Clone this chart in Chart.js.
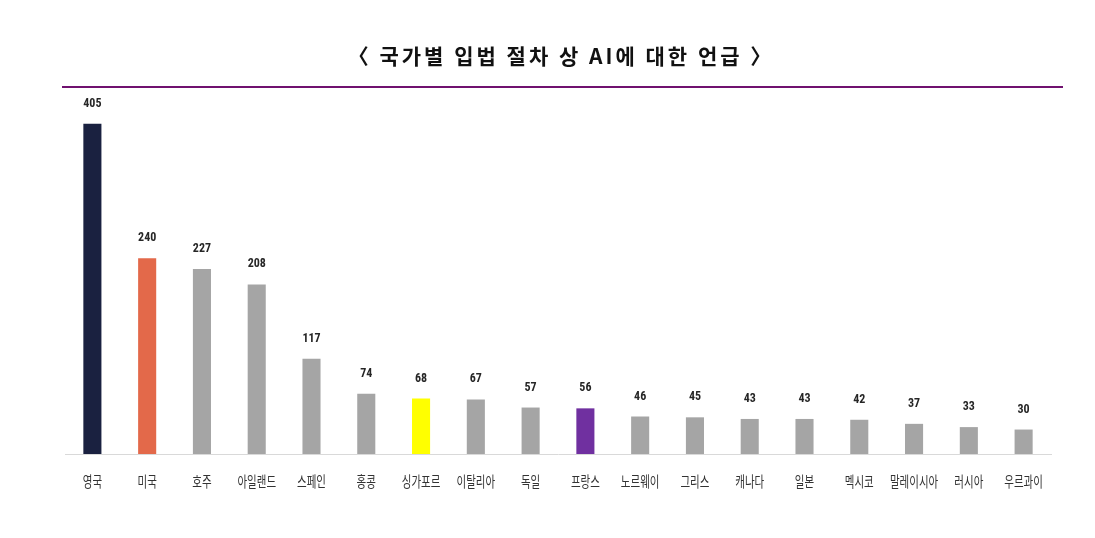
<!DOCTYPE html>
<html><head><meta charset="utf-8">
<script src="https://cdn.jsdelivr.net/npm/chart.js@4.4.1/dist/chart.umd.min.js"></script>
<style>html,body{margin:0;padding:0;background:#fff}#wrap{width:1095px;height:538px}</style>
</head><body><div id="wrap"><canvas id="c"></canvas></div>
<script>
const categories = ['영국','미국','호주','아일랜드','스페인','홍콩','싱가포르','이탈리아','독일','프랑스','노르웨이','그리스','캐나다','일본','멕시코','말레이시아','러시아','우르과이'];
const mentions = [405,240,227,208,117,74,68,67,57,56,46,45,43,43,42,37,33,30];
const barColors = ['#1A2140','#E3694A','#A5A5A5','#A5A5A5','#A5A5A5','#A5A5A5','#FFFF00','#A5A5A5','#A5A5A5','#7030A0','#A5A5A5','#A5A5A5','#A5A5A5','#A5A5A5','#A5A5A5','#A5A5A5','#A5A5A5','#A5A5A5'];
const titleText = '〈 국가별 입법 절차 상 AI에 대한 언급 〉';

const valueLabels = {
  id: 'valueLabels',
  afterDatasetsDraw(chart) {
    const ctx = chart.ctx;
    const meta = chart.getDatasetMeta(0);
    ctx.save();
    ctx.font = 'bold 12px "Liberation Sans Narrow", "Roboto Condensed", "Liberation Sans", sans-serif';
    ctx.fillStyle = '#262626';
    ctx.textAlign = 'center';
    ctx.textBaseline = 'middle';
    meta.data.forEach((bar, i) => {
      ctx.fillText(String(mentions[i]), bar.x, bar.y - 20);
    });
    ctx.restore();
  }
};
const categoryLabels = {
  id: 'categoryLabels',
  afterDraw(chart) {
    const ctx = chart.ctx;
    const xs = chart.scales.x;
    ctx.save();
    ctx.font = '15px "Noto Sans CJK KR", sans-serif';
    ctx.fillStyle = '#333';
    ctx.textAlign = 'center';
    ctx.textBaseline = 'middle';
    categories.forEach((c, i) => {
      const x = xs.getPixelForValue(i);
      ctx.save();
      ctx.translate(x, chart.chartArea.bottom + 27);
      ctx.scale(0.7, 1);
      ctx.fillText(c, 0, 0);
      ctx.restore();
    });
    ctx.restore();
  }
};
const titleDraw = {
  id: 'titleDraw',
  afterDraw(chart) {
    const ctx = chart.ctx;
    const top = chart.chartArea.top;
    const cx = (chart.chartArea.left + chart.chartArea.right) / 2 + 3;
    ctx.save();
    ctx.font = 'bold 21px "Noto Sans CJK KR", sans-serif';
    ctx.letterSpacing = '3px';
    ctx.fillStyle = '#111';
    ctx.textAlign = 'center';
    ctx.textBaseline = 'middle';
    ctx.fillText(titleText, cx, top - 32);
    ctx.letterSpacing = '0px';
    ctx.strokeStyle = '#70116F';
    ctx.lineWidth = 2;
    ctx.beginPath();
    ctx.moveTo(62, top - 1);
    ctx.lineTo(1063, top - 1);
    ctx.stroke();
    ctx.restore();
  }
};

new Chart(document.getElementById('c'), {
  type: 'bar',
  data: {
    labels: categories,
    datasets: [{
      data: mentions,
      backgroundColor: barColors,
      barPercentage: 0.66,
      categoryPercentage: 0.5
    }]
  },
  options: {
    responsive: true,
    maintainAspectRatio: false,
    animation: false,
    layout: { padding: { left: 65, right: 44, top: 88, bottom: 76 } },
    plugins: {
      legend: { display: false },
      tooltip: { enabled: false },
      title: { display: false }
    },
    scales: {
      x: {
        grid: { display: false },
        border: { color: '#D9D9D9', width: 1 },
        ticks: { display: false }
      },
      y: {
        display: false,
        min: 0,
        max: 449
      }
    }
  },
  plugins: [valueLabels, categoryLabels, titleDraw]
});
</script></body></html>
